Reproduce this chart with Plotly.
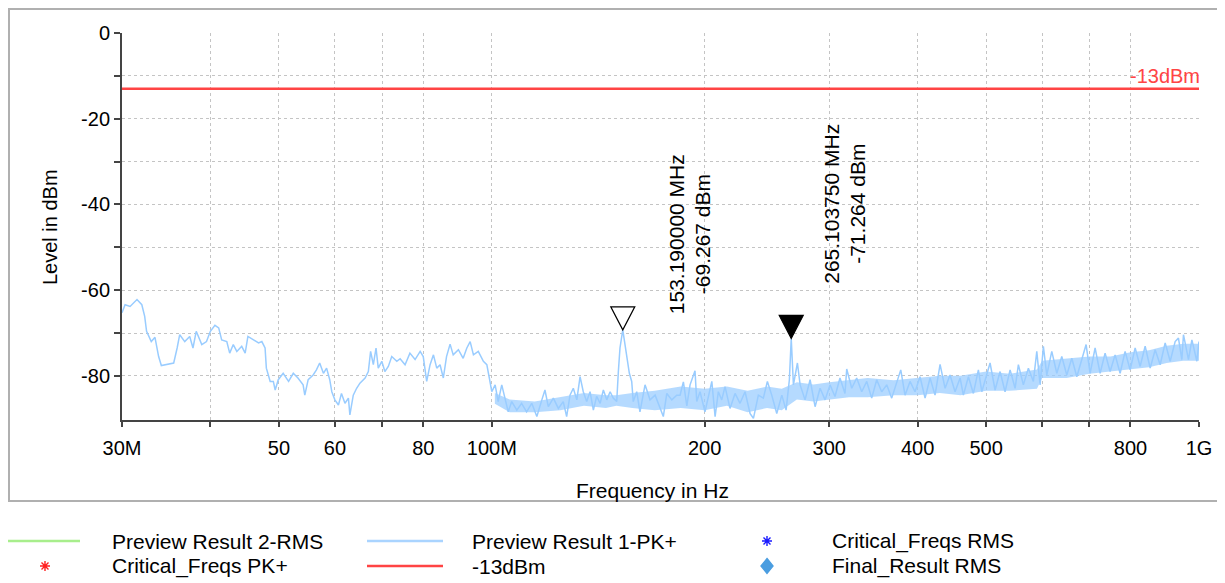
import math
import plotly.graph_objects as go

# Preview Result 1-PK+ (frequency in MHz, level in dBm)
freq_mhz = [
    30.0, 30.3, 30.8, 31.5, 32.0, 32.3, 32.5, 33.0, 33.4, 33.8, 34.1, 34.9, 35.5, 35.9,
    36.2, 36.8, 37.4, 37.8, 38.2, 38.9, 39.5, 40.0, 40.6, 41.1, 41.5, 42.2, 42.6, 43.1,
    43.6, 44.3, 44.8, 45.2, 46.0, 46.8, 47.3, 47.8, 48.0, 48.6, 49.1, 49.4, 49.9, 50.7,
    51.6, 52.4, 53.2, 54.1, 54.4, 55.0, 55.9, 56.5, 57.1, 57.8, 58.4, 59.0, 59.4, 60.0,
    60.7, 61.3, 62.0, 62.7, 63.0, 63.7, 64.4, 65.1, 66.2, 66.9, 67.4, 68.0, 68.6, 69.1,
    69.9, 70.6, 71.4, 72.2, 73.4, 74.2, 75.4, 76.6, 77.9, 79.2, 80.0, 80.9, 81.8, 82.7,
    83.6, 84.5, 85.4, 86.3, 87.3, 88.2, 89.7, 91.1, 92.2, 93.2, 94.2, 95.7, 97.3, 98.4,
    99.2, 100.0, 101.1, 102.1, 103.3, 104.4, 105.5, 106.7, 108.5, 110.2, 112.0, 113.9,
    115.8, 117.7, 118.9, 120.2, 122.2, 124.2, 126.2, 127.6, 129.0, 130.4, 131.9, 133.3,
    134.7, 136.2, 137.7, 139.2, 140.7, 142.3, 143.8, 145.4, 147.0, 148.5, 150.2, 151.0,
    151.8, 153.19, 153.8, 155.2, 156.5, 157.7, 158.5, 160.3, 162.0, 164.7, 167.4, 170.2,
    172.9, 174.8, 176.8, 179.7, 182.6, 184.6, 186.6, 188.7, 190.7, 193.8, 194.9, 197.0,
    200.2, 202.4, 204.7, 206.9, 209.1, 211.4, 213.7, 217.2, 220.8, 224.4, 228.1, 231.9,
    234.4, 238.2, 242.1, 245.3, 248.8, 252.9, 257.1, 260.7, 263.5, 265.10375, 267.0,
    270.5, 272.9, 277.3, 281.9, 286.5, 291.2, 296.0, 300.8, 305.7, 310.7, 315.8, 317.6,
    322.8, 328.1, 333.5, 339.0, 344.5, 350.2, 355.9, 361.8, 367.7, 373.8, 378.7, 384.0,
    390.3, 396.7, 403.2, 409.9, 416.6, 423.4, 430.4, 437.5, 444.6, 451.9, 459.4, 464.3,
    472.0, 479.7, 487.6, 493.0, 501.1, 506.5, 514.8, 523.3, 531.8, 540.6, 549.5, 555.4,
    564.5, 573.8, 583.2, 589.7, 596.1, 602.5, 609.2, 619.2, 629.4, 639.7, 650.2, 660.9,
    671.8, 682.8, 692.4, 701.5, 713.0, 724.7, 736.6, 748.7, 761.0, 773.5, 786.2, 799.1,
    812.3, 825.6, 839.2, 853.0, 867.0, 881.2, 895.7, 910.4, 925.3, 935.3, 945.7, 950.7,
    966.3, 977.1, 993.1, 1000.0,
]
level_dbm = [
    -65.3, -63.4, -63.8, -62.2, -63.4, -66.1, -69.6, -72.0, -71.0, -75.5, -77.6, -77.3, -77.0, -73.5,
    -70.4, -72.0, -70.8, -73.5, -69.6, -72.7, -72.0, -69.6, -68.2, -68.8, -71.6, -72.0, -74.7, -72.7,
    -74.3, -73.1, -74.7, -70.8, -71.6, -72.3, -72.0, -73.5, -78.2, -81.3, -81.3, -83.3, -80.9, -79.4,
    -81.3, -79.4, -80.5, -82.1, -84.5, -80.9, -79.8, -78.6, -77.0, -79.4, -78.2, -80.9, -83.7, -85.6,
    -86.8, -84.1, -86.4, -85.2, -89.1, -84.5, -82.9, -81.7, -80.5, -79.0, -74.3, -77.4, -73.5, -78.2,
    -76.6, -79.0, -77.8, -75.5, -76.6, -76.0, -77.4, -74.7, -76.2, -74.3, -75.5, -81.3, -77.4, -75.1,
    -78.2, -77.4, -80.5, -75.5, -72.6, -75.1, -73.9, -75.9, -73.5, -72.0, -75.1, -74.3, -76.6, -77.4,
    -80.5, -83.7, -82.1, -86.0, -82.1, -85.2, -88.4, -86.0, -88.0, -86.4, -88.4, -86.4,
    -89.5, -85.6, -83.3, -87.2, -85.2, -87.6, -86.0, -89.5, -84.5, -82.9, -85.6, -80.2,
    -83.7, -86.0, -83.7, -88.0, -84.8, -86.4, -83.3, -85.6, -83.7, -85.2, -86.0, -79.0,
    -73.5, -69.267, -71.1, -75.9, -79.4, -81.3, -86.0, -83.7, -88.4, -82.1, -85.6, -84.5,
    -87.2, -89.5, -84.1, -85.6, -84.5, -84.5, -81.4, -87.0, -82.1, -78.8, -86.0, -83.7,
    -88.4, -84.5, -81.3, -89.5, -83.7, -85.6, -82.5, -87.6, -84.1, -86.4, -83.7, -88.8,
    -89.9, -84.5, -85.2, -81.3, -84.5, -88.8, -84.5, -88.0, -80.9, -71.264, -82.1,
    -77.0, -82.1, -85.6, -80.9, -87.2, -82.9, -85.6, -82.1, -84.8, -80.5, -84.1, -78.4,
    -82.9, -80.5, -83.7, -81.3, -85.2, -80.9, -83.7, -82.1, -85.2, -81.3, -78.6, -84.5,
    -81.3, -83.7, -80.2, -85.2, -80.5, -84.5, -77.3, -82.9, -79.8, -83.7, -80.5, -84.5,
    -80.2, -84.1, -78.6, -83.7, -79.4, -77.0, -83.3, -79.0, -83.7, -78.6, -82.9, -77.4,
    -82.1, -78.2, -81.3, -74.3, -82.1, -73.1, -79.8, -74.3, -79.4, -75.5, -79.8, -75.9,
    -80.2, -76.2, -72.7, -79.4, -73.5, -79.4, -74.7, -79.0, -75.1, -79.4, -74.3, -78.6,
    -73.5, -77.8, -73.1, -78.2, -73.9, -77.4, -72.3, -76.6, -72.0, -71.2, -76.2, -70.4,
    -76.2, -71.6, -76.6, -72.0,
]

# dense noise band of the same sweep (upper / lower edge)
band_freq_mhz = [101, 106, 115, 125, 135, 145, 150, 158, 170, 185, 200, 215, 230, 245, 257, 270,
                 285, 300, 320, 340, 370, 400, 430, 460, 500, 540, 590, 600, 650, 700, 750, 800,
                 850, 900, 950, 1000]
band_upper_dbm = [-84.0, -85.5, -86.0, -85.0, -84.0, -84.5, -84.5, -84.0, -83.5, -82.5, -83.0,
                  -82.5, -83.5, -82.5, -83.0, -81.5, -82.0, -81.5, -81.0, -80.5, -81.0, -80.5,
                  -80.0, -80.0, -79.0, -79.5, -78.5, -76.5, -76.0, -75.5, -75.5, -74.5,
                  -74.0, -73.0, -72.5, -72.5]
band_lower_dbm = [-86.5, -88.5, -88.5, -88.0, -87.0, -87.5, -87.0, -87.5, -88.0, -87.5, -88.0,
                  -87.0, -88.5, -87.5, -88.0, -85.5, -86.0, -85.5, -85.0, -85.0, -84.5, -84.5,
                  -84.0, -84.5, -83.5, -83.5, -83.0, -80.5, -80.5, -79.5, -79.0, -78.5,
                  -78.0, -77.0, -76.5, -76.5]

# markers
peak_freq_mhz = [153.19, 265.10375]
peak_level_dbm = [-69.267, -71.264]
peak_filled = [False, True]

# limit line
limit_dbm = -13
limit_name = "-13dBm"

# axes
x_tick_mhz = [30, 40, 50, 60, 70, 80, 100, 200, 300, 400, 500, 600, 700, 800, 1000]
x_tick_text = ["30M", "", "50", "60", "", "80", "100M", "200", "300", "400", "500", "", "", "800", "1G"]
y_tick_vals = [0, -10, -20, -30, -40, -50, -60, -70, -80]
y_tick_text = ["0", "", "-20", "", "-40", "", "-60", "", "-80"]
y_range = [-90.3, 0]

# legend entries (name, kind, colour)
legend_items = [
    ("Preview Result 2-RMS", "line", "#a8ee8c"),
    ("Critical_Freqs PK+", "asterisk", "#ff2020"),
    ("Preview Result 1-PK+", "line", "#aad4ff"),
    ("-13dBm", "line", "#ff4444"),
    ("Critical_Freqs RMS", "asterisk", "#1a1aff"),
    ("Final_Result RMS", "diamond", "#4a9de0"),
]

FONT = "Liberation Sans, Arial, sans-serif"
OFF = 8  # page body margin
W, H = 1225 - OFF, 583 - OFF
ML, MT = 122 - OFF, 33 - OFF
MR, MB = W - (1199 - OFF), H - (420 - OFF)
PW, PH = W - ML - MR, H - MT - MB


def px_to_paper(px, py):
    # page pixel -> paper coordinates
    return (px - OFF - ML) / PW, (H - MB - (py - OFF)) / PH


fig = go.Figure()

fig.add_trace(go.Scatter(
    x=[f * 1e6 for f in band_freq_mhz], y=band_lower_dbm, mode="lines",
    line=dict(color="#99ccff", width=0), showlegend=False, hoverinfo="skip",
))
fig.add_trace(go.Scatter(
    x=[f * 1e6 for f in band_freq_mhz], y=band_upper_dbm, mode="lines", fill="tonexty",
    fillcolor="rgba(153,204,255,0.72)", line=dict(color="#99ccff", width=0),
    showlegend=False, hoverinfo="skip",
))
fig.add_trace(go.Scatter(
    x=[f * 1e6 for f in freq_mhz], y=level_dbm, mode="lines",
    line=dict(color="#99ccff", width=1.5), name="Preview Result 1-PK+",
    showlegend=False,
))

fig.add_trace(go.Scatter(
    x=[x_tick_mhz[0] * 1e6, x_tick_mhz[-1] * 1e6], y=[limit_dbm, limit_dbm],
    mode="lines", line=dict(color="#ff4444", width=2.5), name=limit_name,
    showlegend=False,
))

shapes = []
annotations = []

# triangle markers with apex on the peak
for f, lvl, filled in zip(peak_freq_mhz, peak_level_dbm, peak_filled):
    shapes.append(dict(
        type="path", xref="x", yref="y", xsizemode="pixel", ysizemode="pixel",
        xanchor=f * 1e6, yanchor=lvl, path="M-12,23 L12,23 L0,0 Z",
        fillcolor="black" if filled else "white", line=dict(color="black", width=1.2),
        layer="above",
    ))

# marker labels
label_y = [-47.0, -39.8]
label_shift = [(54, 80), (40, 66)]
for f, lvl, ly, (s1, s2) in zip(peak_freq_mhz, peak_level_dbm, label_y, label_shift):
    for txt, sh in ((f"{f:.6f} MHz", s1), (f"{lvl:.3f} dBm", s2)):
        annotations.append(dict(
            x=math.log10(f * 1e6), y=ly, xref="x", yref="y", text=txt, textangle=-90,
            xshift=sh, showarrow=False, xanchor="center", yanchor="middle",
            font=dict(family=FONT, size=21, color="black"),
        ))

# limit label
annotations.append(dict(
    x=1, y=limit_dbm, xref="paper", yref="y", text=limit_name, showarrow=False,
    xanchor="right", yanchor="bottom", xshift=3, yshift=0,
    font=dict(family=FONT, size=20, color="#ff4444"),
))

# axis titles
tx, ty = px_to_paper(50, 227)
annotations.append(dict(x=tx, y=ty, xref="paper", yref="paper", text="Level in dBm",
                        textangle=-90, showarrow=False, xanchor="center", yanchor="middle",
                        font=dict(family=FONT, size=20, color="black")))
tx, ty = px_to_paper(652, 490)
annotations.append(dict(x=tx, y=ty, xref="paper", yref="paper", text="Frequency in Hz",
                        showarrow=False, xanchor="center", yanchor="middle",
                        font=dict(family=FONT, size=21, color="black")))

# outer frame
x0, y0 = px_to_paper(9, 501)
x1, y1 = px_to_paper(1218, 9)
shapes.append(dict(type="rect", xref="paper", yref="paper", x0=x0, x1=x1, y0=y0, y1=y1,
                   line=dict(color="#b0b0b0", width=2), layer="below"))

# manual legend, 3 columns x 2 rows
col_line = [(6, 80), (367, 443), (728, 802)]
col_mark = [45, 405, 767]
col_text = [110, 470, 830]
row_y = [541, 566]
asterisk = "M-5,0 L5,0 M0,-5 L0,5 M-3.5,-3.5 L3.5,3.5 M-3.5,3.5 L3.5,-3.5"
diamond = "M0,7.5 L6,0 L0,-7.5 L-6,0 Z"
for i, (name, kind, color) in enumerate(legend_items):
    c, r = divmod(i, 2)
    tx, ty = px_to_paper(col_text[c], row_y[r])
    annotations.append(dict(x=tx, y=ty, xref="paper", yref="paper", text=name, showarrow=False,
                            xanchor="left", yanchor="middle",
                            font=dict(family=FONT, size=21, color="black")))
    if kind == "line":
        lx0, ly = px_to_paper(col_line[c][0], row_y[r])
        lx1, _ = px_to_paper(col_line[c][1], row_y[r])
        shapes.append(dict(type="line", xref="paper", yref="paper", x0=lx0, x1=lx1, y0=ly, y1=ly,
                           line=dict(color=color, width=2.5)))
    else:
        mx, my = px_to_paper(col_mark[c], row_y[r])
        shapes.append(dict(
            type="path", xref="paper", yref="paper", xsizemode="pixel", ysizemode="pixel",
            xanchor=mx, yanchor=my, path=asterisk if kind == "asterisk" else diamond,
            line=dict(color=color, width=1.4), fillcolor=color if kind == "diamond" else None,
        ))

fig.update_layout(
    width=W, height=H, autosize=False,
    margin=dict(l=ML, r=MR, t=MT, b=MB, pad=0),
    paper_bgcolor="white", plot_bgcolor="white",
    font=dict(family=FONT, size=20, color="black"),
    showlegend=False,
    xaxis=dict(
        type="log", range=[math.log10(x_tick_mhz[0] * 1e6), math.log10(x_tick_mhz[-1] * 1e6)],
        tickmode="array", tickvals=[v * 1e6 for v in x_tick_mhz], ticktext=x_tick_text,
        showgrid=True, gridcolor="#c4c4c4", griddash="dot", gridwidth=1,
        showline=True, linecolor="#444444", linewidth=2,
        ticks="outside", ticklen=5, tickwidth=1.5, tickcolor="#444444",
        ticklabelstandoff=4, tickfont=dict(family=FONT, size=20, color="black"),
        zeroline=False,
    ),
    yaxis=dict(
        range=y_range, tickmode="array", tickvals=y_tick_vals, ticktext=y_tick_text,
        showgrid=True, gridcolor="#c4c4c4", griddash="dot", gridwidth=1,
        showline=True, linecolor="#444444", linewidth=2,
        ticks="outside", ticklen=6, tickwidth=1.5, tickcolor="#444444",
        tickfont=dict(family=FONT, size=20, color="black"), zeroline=False,
    ),
    shapes=shapes,
    annotations=annotations,
)

fig.write_html("out.html")
